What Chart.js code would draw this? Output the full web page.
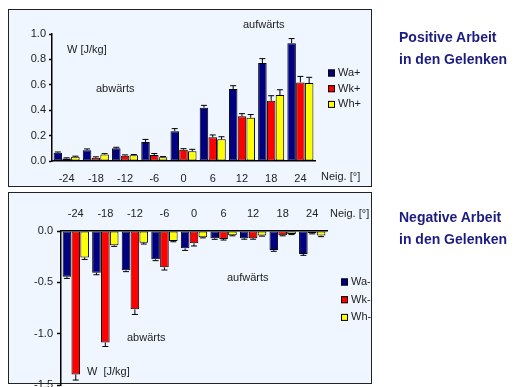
<!DOCTYPE html>
<html>
<head>
<meta charset="utf-8">
<script src="https://cdn.jsdelivr.net/npm/chart.js@4.4.1/dist/chart.umd.min.js"></script>
<style>
  html, body { margin: 0; padding: 0; width: 516px; height: 387px; overflow: hidden; background: #ffffff; }
  .panel { position: absolute; box-sizing: border-box; border: 1.5px solid #222; background: #eff6ff; }
  canvas { position: absolute; left: 0; }
  .title { position: absolute; left: 399px; font-family: "Liberation Sans", Arial, sans-serif; font-weight: bold;
           font-size: 14px; line-height: 22px; color: #1c1c80; white-space: nowrap; }
</style>
</head>
<body>
<div class="panel" style="left:8px; top:9px; width:364px; height:178px;"></div>
<div class="panel" style="left:8px; top:192px; width:364px; height:192px;"></div>
<canvas id="posChart" width="516" height="190" style="top:0px;"></canvas>
<canvas id="negChart" width="516" height="210" style="top:190px;"></canvas>
<div class="title" style="top:26px;">Positive Arbeit<br>in den Gelenken</div>
<div class="title" style="top:206px;">Negative Arbeit<br>in den Gelenken</div>
<script>
// Slope angles (Neigung, degrees)
const categories = ['-24', '-18', '-12', '-6', '0', '6', '12', '18', '24'];

// Positive work per joint [J/kg]: ankle (Wa), knee (Wk), hip (Wh)
const posWa = [0.065, 0.085, 0.100, 0.150, 0.235, 0.420, 0.567, 0.772, 0.927];
const posWk = [0.020, 0.025, 0.042, 0.047, 0.089, 0.187, 0.353, 0.474, 0.619];
const posWh = [0.033, 0.052, 0.045, 0.030, 0.077, 0.171, 0.340, 0.519, 0.614];
const posWaErr = [0.006, 0.010, 0.008, 0.020, 0.020, 0.018, 0.026, 0.034, 0.037];
const posWkErr = [0.005, 0.008, 0.006, 0.012, 0.008, 0.018, 0.020, 0.040, 0.047];
const posWhErr = [0.005, 0.006, 0.006, 0.005, 0.015, 0.020, 0.026, 0.042, 0.045];

// Negative work per joint [J/kg]
const negWa = [-0.445, -0.406, -0.383, -0.276, -0.169, -0.071, -0.070, -0.185, -0.224];
const negWk = [-1.397, -1.085, -0.763, -0.354, -0.120, -0.078, -0.070, -0.042, -0.023];
const negWh = [-0.257, -0.140, -0.114, -0.097, -0.062, -0.042, -0.045, -0.030, -0.045];
const negWaErr = [0.017, 0.020, 0.013, 0.013, 0.020, 0.010, 0.010, 0.013, 0.013];
const negWkErr = [0.055, 0.040, 0.050, 0.026, 0.026, 0.010, 0.010, 0.005, 0.005];
const negWhErr = [0.020, 0.010, 0.013, 0.008, 0.005, 0.005, 0.005, 0.005, 0.010];

const posTicks = [0, 0.2, 0.4, 0.6, 0.8, 1.0];
const negTicks = [-1.5, -1.0, -0.5, 0.0];

const colWa = '#000080', colWk = '#ff0000', colWh = '#ffff00';
const FONT = '"Liberation Sans", Arial, sans-serif';
const TEXT = '#222222';

function series(label, data, errors, color) {
  return { label, data, errors, backgroundColor: color, borderColor: '#000', borderWidth: 1, borderSkipped: false };
}

// Error bars drawn away from the axis, with a small cap
const errorBars = {
  id: 'errorBars',
  afterDatasetsDraw(chart) {
    const ctx = chart.ctx, y = chart.scales.y;
    ctx.save();
    ctx.strokeStyle = '#000';
    ctx.lineWidth = 1;
    chart.data.datasets.forEach((ds, i) => {
      chart.getDatasetMeta(i).data.forEach((bar, j) => {
        const v = ds.data[j], e = ds.errors[j];
        const end = y.getPixelForValue(v + (v >= 0 ? e : -e));
        ctx.beginPath();
        ctx.moveTo(bar.x, bar.y);
        ctx.lineTo(bar.x, end);
        ctx.moveTo(bar.x - 3, end);
        ctx.lineTo(bar.x + 3, end);
        ctx.stroke();
      });
    });
    ctx.restore();
  }
};

// Free text labels and the series key, clipped to the panel
const notes = {
  id: 'notes',
  afterDraw(chart, args, opts) {
    const ctx = chart.ctx;
    ctx.save();
    ctx.beginPath();
    ctx.rect(0, 0, opts.clipRight, chart.height);
    ctx.clip();
    ctx.font = '11px ' + FONT;
    ctx.fillStyle = TEXT;
    ctx.textBaseline = 'middle';
    ctx.textAlign = 'left';
    opts.texts.forEach(t => ctx.fillText(t.text, t.x, t.y));
    const k = opts.key;
    chart.data.datasets.forEach((ds, i) => {
      const yy = k.y + i * k.gap;
      ctx.fillStyle = ds.backgroundColor;
      ctx.fillRect(k.x, yy - 3.5, 7, 7);
      ctx.strokeStyle = '#000';
      ctx.lineWidth = 1;
      ctx.strokeRect(k.x + 0.5, yy - 3, 6, 6);
      ctx.fillStyle = TEXT;
      ctx.fillText(ds.label, k.x + 10, yy);
    });
    ctx.restore();
  }
};

const baseTicks = { color: TEXT, font: { family: FONT, size: 11 }, autoSkip: false, maxRotation: 0 };

new Chart(document.getElementById('posChart'), {
  type: 'bar',
  data: {
    labels: categories,
    datasets: [
      series('Wa+', posWa, posWaErr, colWa),
      series('Wk+', posWk, posWkErr, colWk),
      series('Wh+', posWh, posWhErr, colWh)
    ]
  },
  options: {
    responsive: false, animation: false, devicePixelRatio: 1,
    layout: { padding: { top: 34, right: 201, bottom: 0, left: 0 } },
    datasets: { bar: { categoryPercentage: 0.9, barPercentage: 0.97 } },
    plugins: {
      legend: { display: false }, tooltip: { enabled: false },
      notes: {
        clipRight: 371,
        texts: [
          { text: 'W [J/kg]', x: 67, y: 50 },
          { text: 'abwärts', x: 96, y: 89 },
          { text: 'aufwärts', x: 243, y: 25 },
          { text: 'Neig. [°]', x: 321, y: 177 }
        ],
        key: { x: 328, y: 73, gap: 15.7 }
      }
    },
    scales: {
      x: {
        grid: { display: false, drawTicks: false },
        border: { display: true, color: '#000', width: 1.5 },
        ticks: { ...baseTicks, padding: 11 },
        afterFit(s) { s.height = 29; }
      },
      y: {
        min: 0, max: 1,
        afterBuildTicks(s) { s.ticks = posTicks.map(v => ({ value: v })); },
        ticks: { ...baseTicks, padding: 3, callback: v => Number(v).toFixed(1) },
        grid: { drawOnChartArea: false, tickLength: 3, tickColor: '#000', tickWidth: 1.5 },
        border: { display: true, color: '#000', width: 1.5 },
        afterFit(s) { s.width = 52; }
      }
    }
  },
  plugins: [errorBars, notes]
});

new Chart(document.getElementById('negChart'), {
  type: 'bar',
  data: {
    labels: categories,
    datasets: [
      series('Wa-', negWa, negWaErr, colWa),
      series('Wk-', negWk, negWkErr, colWk),
      series('Wh-', negWh, negWhErr, colWh)
    ]
  },
  options: {
    responsive: false, animation: false, devicePixelRatio: 1,
    layout: { padding: { top: 0, right: 189, bottom: 15, left: 0 } },
    datasets: { bar: { categoryPercentage: 0.9, barPercentage: 0.97 } },
    plugins: {
      legend: { display: false }, tooltip: { enabled: false },
      notes: {
        clipRight: 371,
        texts: [
          { text: 'abwärts', x: 127, y: 148 },
          { text: 'W  [J/kg]', x: 87, y: 182 },
          { text: 'aufwärts', x: 227, y: 88 },
          { text: 'Neig. [°]', x: 330, y: 24 }
        ],
        key: { x: 341, y: 92, gap: 17.7 }
      }
    },
    scales: {
      x: {
        position: 'top',
        grid: { display: false, drawTicks: false },
        border: { display: true, color: '#000', width: 1.5 },
        ticks: { ...baseTicks, padding: 10 },
        afterFit(s) { s.height = 41; }
      },
      y: {
        min: -1.5, max: 0,
        afterBuildTicks(s) { s.ticks = negTicks.map(v => ({ value: v })); },
        ticks: { ...baseTicks, padding: 4, callback: v => Number(v).toFixed(1) },
        grid: { drawOnChartArea: false, tickLength: 4, tickColor: '#000', tickWidth: 1.5 },
        border: { display: true, color: '#000', width: 1.5 },
        afterFit(s) { s.width = 61; }
      }
    }
  },
  plugins: [errorBars, notes]
});
</script>
</body>
</html>
